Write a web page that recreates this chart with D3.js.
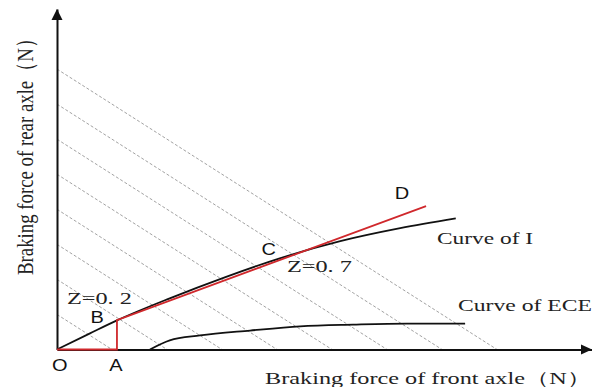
<!DOCTYPE html>
<html><head><meta charset="utf-8">
<script src="https://cdn.jsdelivr.net/npm/d3@7"></script>
<style>html,body{margin:0;padding:0;background:#fff;}svg{display:block;}</style>
</head><body>
<svg id="chart" width="592" height="387"></svg>
<script>
// ---- data (arbitrary force units) ----
const equalZLines = [1, 2, 3, 4, 5, 6, 7, 8];           // lines Fxb1 + Fxb2 = const
const curveI = [[0,0],[0.6,0.46],[1.09,0.83],[2.05,1.46],[3.05,2.06],[4.05,2.6],[5.15,3.09],[6.24,3.46],[7.25,3.74]];
const curveECE = [[1.69,0],[2.05,0.26],[2.6,0.4],[3.51,0.54],[4.42,0.66],[5.38,0.71],[6.36,0.74],[7.42,0.74]];
const redPath = [[0,0],[1.09,0],[1.09,0.84],[6.71,4.09]]; // O -> A -> B -> D
const pointLabels = [
  {t:"O", x:0.05, y:-0.62}, {t:"A", x:1.07, y:-0.62},
  {t:"B", x:0.73, y:0.75}, {t:"C", x:3.85, y:2.7}, {t:"D", x:6.27, y:4.3}
];
const zLabels = [{t:"Z=0. 2", x:0.18, y:1.31}, {t:"Z=0. 7", x:4.18, y:2.20}];
const curveLabels = [{t:"Curve of I", x:6.91, y:3.02, w:96}, {t:"Curve of ECE", x:7.29, y:1.09, w:134}];
const xTitle = "Braking force of front axle（N）";
const yTitle = "Braking force of rear axle（N）";

const svg = d3.select("#chart");
const x = d3.scaleLinear().domain([0, 9.727]).range([57, 592]);
const y = d3.scaleLinear().domain([0, 9.714]).range([349.5, 9]);

// dashed equal-deceleration lines
svg.append("g").selectAll("line").data(equalZLines).join("line")
  .attr("x1", x(0)).attr("y1", d => y(d))
  .attr("x2", d => x(d)).attr("y2", y(0))
  .attr("stroke", "#8a8a8a").attr("stroke-width", 0.8).attr("stroke-dasharray", "3,2");

const line = d3.line().x(d => x(d[0])).y(d => y(d[1])).curve(d3.curveMonotoneX);

svg.append("path").attr("d", line(curveECE)).attr("fill","none").attr("stroke","#111").attr("stroke-width",1.8);
svg.append("path").attr("d", line(curveI)).attr("fill","none").attr("stroke","#111").attr("stroke-width",1.8);

// axes (no ticks)
svg.append("g").attr("transform", `translate(0,${y(0)})`)
  .call(d3.axisBottom(x).tickValues([]).tickSizeOuter(0));
svg.append("g").attr("transform", `translate(${x(0)},0)`)
  .call(d3.axisLeft(y).tickValues([]).tickSizeOuter(0));
svg.selectAll(".domain").attr("stroke","#111").attr("stroke-width",2);

// arrowheads
const xm = x.domain()[1], ym = y.domain()[1];
svg.append("path").attr("d", `M${x(xm)},${y(0)} l-11,-5 l0,10 z`).attr("fill","#111");
svg.append("path").attr("d", `M${x(0)},${y(ym)} l-5.5,11 l11,0 z`).attr("fill","#111");

// red O-A-B-D
svg.append("path").attr("d", d3.line().x(d=>x(d[0])).y(d=>y(d[1]))(redPath))
  .attr("fill","none").attr("stroke","#d0282c").attr("stroke-width",1.8);

// point labels (sans)
svg.append("g").selectAll("text").data(pointLabels).join("text")
  .attr("transform", d => `translate(${x(d.x)},${y(d.y)}) scale(1.25,1)`)
  .attr("text-anchor","middle")
  .attr("font-family","Liberation Sans, Arial, sans-serif").attr("font-size",16)
  .attr("fill","#111").text(d => d.t);

// Z labels (serif)
svg.append("g").selectAll("text").data(zLabels).join("text")
  .attr("x", d => x(d.x)).attr("y", d => y(d.y))
  .attr("font-family","Liberation Serif, Times New Roman, serif").attr("font-size",17)
  .attr("textLength", 65).attr("lengthAdjust","spacingAndGlyphs")
  .attr("fill","#222").text(d => d.t);

svg.append("g").selectAll("text").data(curveLabels).join("text")
  .attr("x", d => x(d.x)).attr("y", d => y(d.y))
  .attr("font-family","Liberation Serif, Times New Roman, serif").attr("font-size",17)
  .attr("textLength", d => d.w).attr("lengthAdjust","spacingAndGlyphs")
  .attr("fill","#222").text(d => d.t);

// axis titles
svg.append("text").attr("x", 265).attr("y", 384)
  .attr("font-family","Liberation Serif, Times New Roman, serif").attr("font-size",17)
  .attr("textLength", 326).attr("lengthAdjust","spacingAndGlyphs")
  .attr("fill","#222").text(xTitle);

svg.append("text").attr("transform","translate(33,275) scale(1.4,1) rotate(-90)")
  .attr("font-family","Liberation Serif, Times New Roman, serif").attr("font-size",17)
  .attr("textLength", 246).attr("lengthAdjust","spacingAndGlyphs")
  .attr("fill","#222").text(yTitle);
</script>
</body></html>
